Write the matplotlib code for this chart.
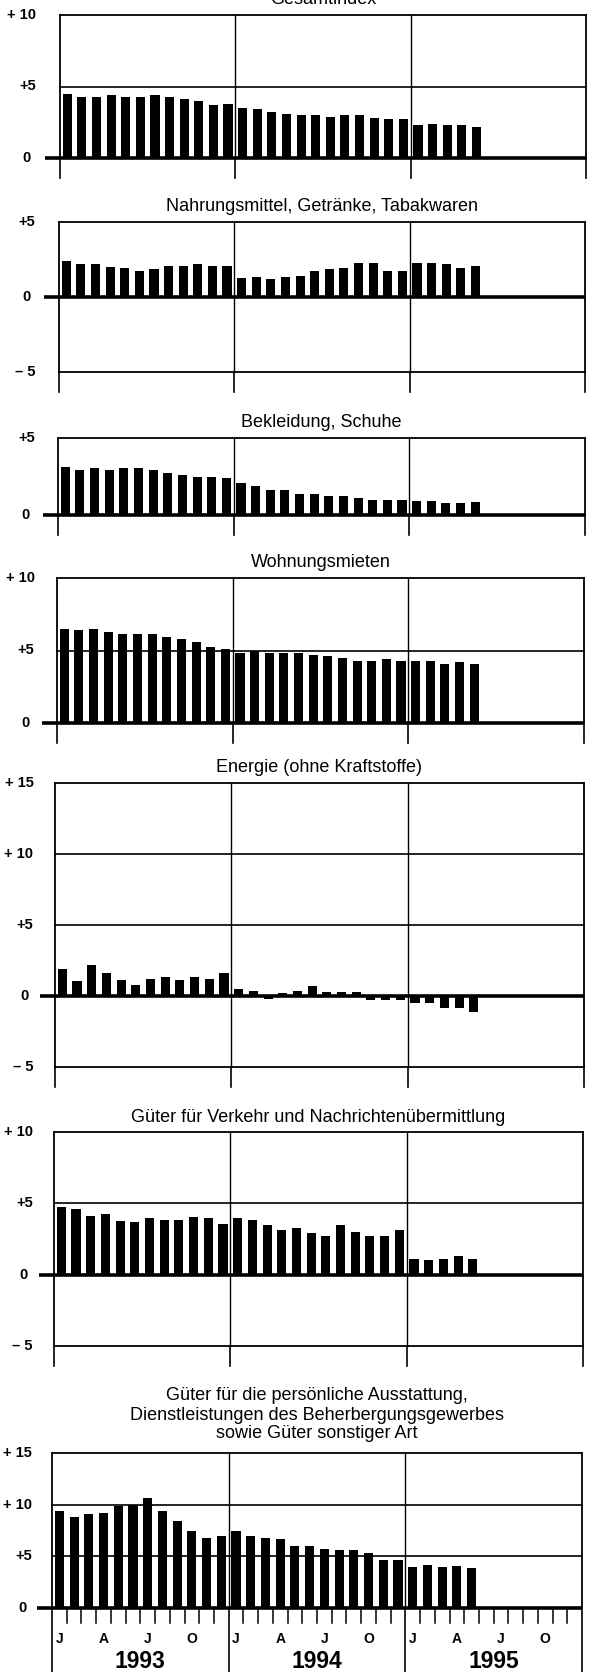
import numpy as np
import matplotlib
matplotlib.use("Agg")
import matplotlib.pyplot as plt

plt.rcParams['font.family'] = ['Liberation Sans', 'DejaVu Sans']

# ---------------- data (Veränderung gegenüber Vorjahresmonat in %) ----------------
months = ["J", "F", "M", "A", "M", "J", "J", "A", "S", "O", "N", "D"]
years = ["1993", "1994", "1995"]
month_labels = {0: "J", 3: "A", 6: "J", 9: "O"}

titles = [
    "Gesamtindex",
    "Nahrungsmittel, Getränke, Tabakwaren",
    "Bekleidung, Schuhe",
    "Wohnungsmieten",
    "Energie (ohne Kraftstoffe)",
    "Güter für Verkehr und Nachrichtenübermittlung",
    "Güter für die persönliche Ausstattung,\nDienstleistungen des Beherbergungsgewerbes\nsowie Güter sonstiger Art",
]

gesamtindex = [4.5, 4.3, 4.3, 4.4, 4.3, 4.3, 4.4, 4.3, 4.1, 4.0, 3.7, 3.75,
               3.5, 3.4, 3.2, 3.1, 3.0, 3.0, 2.9, 3.0, 3.0, 2.8, 2.7, 2.7,
               2.3, 2.4, 2.3, 2.3, 2.2]
nahrung = [2.4, 2.2, 2.2, 2.0, 1.95, 1.75, 1.85, 2.1, 2.1, 2.2, 2.1, 2.1,
           1.3, 1.35, 1.2, 1.35, 1.4, 1.75, 1.85, 1.95, 2.3, 2.3, 1.75, 1.75,
           2.25, 2.25, 2.2, 1.95, 2.05]
bekleidung = [3.1, 2.95, 3.05, 2.95, 3.05, 3.05, 2.9, 2.75, 2.6, 2.5, 2.5, 2.4,
              2.1, 1.9, 1.65, 1.65, 1.35, 1.35, 1.25, 1.25, 1.1, 1.0, 1.0, 1.0,
              0.9, 0.9, 0.8, 0.8, 0.85]
mieten = [6.45, 6.4, 6.45, 6.3, 6.15, 6.15, 6.15, 5.95, 5.8, 5.6, 5.25, 5.1,
          4.8, 4.95, 4.8, 4.8, 4.8, 4.7, 4.65, 4.5, 4.3, 4.3, 4.4, 4.3,
          4.3, 4.3, 4.1, 4.2, 4.1]
energie = [1.92, 1.05, 2.15, 1.65, 1.13, 0.75, 1.22, 1.34, 1.1, 1.34, 1.17, 1.6,
           0.47, 0.35, -0.2, 0.2, 0.35, 0.7, 0.25, 0.3, 0.3, -0.25, -0.3, -0.3,
           -0.5, -0.5, -0.85, -0.85, -1.1]
verkehr = [4.75, 4.6, 4.1, 4.25, 3.75, 3.7, 3.95, 3.8, 3.8, 4.05, 3.95, 3.55,
           3.95, 3.8, 3.45, 3.1, 3.3, 2.9, 2.7, 3.5, 3.0, 2.7, 2.7, 3.1,
           1.1, 1.0, 1.1, 1.3, 1.1]
sonstige = [9.4, 8.8, 9.1, 9.2, 9.85, 9.95, 10.65, 9.4, 8.4, 7.45, 6.8, 6.95,
            7.45, 6.95, 6.8, 6.65, 6.0, 6.0, 5.7, 5.6, 5.6, 5.3, 4.6, 4.6,
            4.0, 4.2, 3.95, 4.05, 3.85]

series = [gesamtindex, nahrung, bekleidung, mieten, energie, verkehr, sonstige]
yranges = [(0, 10), (-5, 5), (0, 5), (0, 10), (-5, 15), (-5, 10), (0, 15)]
ytick_labels = {15: "+ 15", 10: "+ 10", 5: "+5", 0: "0", -5: "– 5"}

# ---------------- layout (pixels) ----------------
W, H = 600, 1672
# left, right, top, bottom of each plotting box
boxes = [
    (60, 586, 15, 158),
    (59, 585, 222, 372),
    (58, 585, 438, 515),
    (57, 584, 578, 723),
    (55, 584, 783, 1067),
    (54, 583, 1132, 1346),
    (52, 582, 1453, 1608),
]
title_y = [4, 211, 427, 567, 772, 1122, None]

fig = plt.figure(figsize=(W / 100, H / 100), dpi=100)


def fx(px):
    return px / W


def fy(py):
    return 1 - py / H


n_months = 36
for i, (vals, (ymin, ymax), (L, R, T, B)) in enumerate(zip(series, yranges, boxes)):
    ax = fig.add_axes([fx(L), fy(B), (R - L) / W, (B - T) / H])
    ax.set_xlim(0, n_months)
    ax.set_ylim(ymin, ymax)
    ax.set_axis_off()
    hpx = B - T
    upp = (ymax - ymin) / hpx  # data units per pixel (y)
    xpp = n_months / (R - L)

    x = np.arange(len(vals)) + 0.5
    ax.bar(x, vals, width=0.62, color="black", zorder=3)

    # frame
    lw = 1.3
    ax.plot([0, 0], [ymin, ymax], color="black", lw=lw, clip_on=False)
    ax.plot([n_months, n_months], [ymin, ymax], color="black", lw=lw, clip_on=False)
    ax.plot([0, n_months], [ymax, ymax], color="black", lw=lw, clip_on=False)
    if ymin < 0:
        ax.plot([0, n_months], [ymin, ymin], color="black", lw=lw, clip_on=False)
    # horizontal grid
    for yv in range(ymin + 5, ymax, 5):
        if yv != 0:
            ax.plot([0, n_months], [yv, yv], color="black", lw=1.2, clip_on=False)
    # zero line (thick, reaching left of the box)
    ax.plot([-15 * xpp, n_months], [0, 0], color="black", lw=2.6, clip_on=False,
            zorder=4, solid_capstyle="butt")
    # year separators
    for xv in (12, 24):
        ax.plot([xv, xv], [ymin, ymax], color="black", lw=1.0, clip_on=False, zorder=2)

    # y labels
    rx = L - 24 + (60 - L) * 0.5
    for yv in range(ymin, ymax + 1, 5):
        lab = ytick_labels[yv]
        lx = rx if lab != "0" else rx - 5
        fig.text(fx(lx), fy(B - (yv - ymin) / upp), lab, ha="right", va="center",
                 fontsize=10.5, fontweight="bold")

    if i < 6:
        # ticks below the box at the year boundaries
        for xv in (0, 12, 24, 36):
            ax.plot([xv, xv], [ymin, ymin - 20 * upp], color="black", lw=1.2,
                    clip_on=False)
        fig.text(fx((L + R) / 2), fy(title_y[i]), titles[i], ha="center",
                 va="baseline", fontsize=13)
    else:
        # month ticks
        for m in range(1, n_months):
            if m % 12:
                ax.plot([m, m], [0, -15 * upp], color="black", lw=1.1, clip_on=False)
        # year separators down to the bottom
        for xv in (0, 12, 24, 36):
            ax.plot([xv, xv], [0, -(H - B) * upp], color="black", lw=1.2, clip_on=False)
        for y_i, yr in enumerate(years):
            for m, ml in month_labels.items():
                mx = L + (y_i * 12 + m + 0.5) / xpp
                fig.text(fx(mx), fy(1639), ml, ha="center", va="center",
                         fontsize=10, fontweight="bold")
            cx = L + (y_i * 12 + 6) / xpp
            fig.text(fx(cx), fy(1662), yr, ha="center", va="center",
                     fontsize=16.5, fontweight="bold")
        for k, line in enumerate(titles[i].split("\n")):
            fig.text(fx((L + R) / 2), fy(1396 + 19 * k), line, ha="center",
                     va="center", fontsize=13)

fig.savefig("out.png", dpi=100, facecolor="white")
